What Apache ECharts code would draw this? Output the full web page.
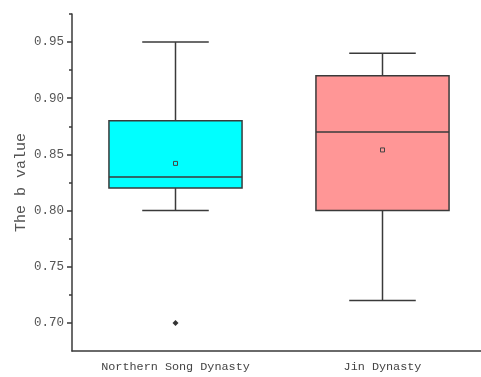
<!DOCTYPE html>
<html>
<head>
<meta charset="utf-8">
<script src="https://cdn.jsdelivr.net/npm/echarts@6/dist/echarts.min.js"></script>
<style>html,body{margin:0;padding:0;background:#fff}#c{width:481px;height:377px}</style>
</head>
<body>
<div id="c"></div>
<script>
const categories = ['Northern Song Dynasty', 'Jin Dynasty'];
const whiskerLow = [0.80, 0.72];
const q1 = [0.82, 0.80];
const median = [0.83, 0.87];
const q3 = [0.88, 0.92];
const whiskerHigh = [0.95, 0.94];
const means = [0.842, 0.854];
const outlierCategory = [0];
const outlierValue = [0.70];
const majorTicks = [0.70, 0.75, 0.80, 0.85, 0.90, 0.95];
const minorTicks = [0.725, 0.775, 0.825, 0.875, 0.925, 0.975];

const boxColors = ['#00FFFF', '#FF9696'];
const lineColor = '#3a3a3a';
const font = 'Liberation Mono';

const boxData = categories.map((c, i) => [i, whiskerLow[i], q1[i], median[i], q3[i], whiskerHigh[i], means[i]]);
const outlierData = outlierCategory.map((c, i) => [c, outlierValue[i]]);

function renderBox(params, api) {
  const idx = api.value(0);
  const band = api.size([1, 0])[0];
  const bw = band * 0.643;
  const cw = bw / 2;
  const pLow = api.coord([idx, api.value(1)]);
  const pQ1 = api.coord([idx, api.value(2)]);
  const pMed = api.coord([idx, api.value(3)]);
  const pQ3 = api.coord([idx, api.value(4)]);
  const pHigh = api.coord([idx, api.value(5)]);
  const pMean = api.coord([idx, api.value(6)]);
  const x = pQ1[0];
  const ls = { stroke: lineColor, lineWidth: 1.5 };
  return {
    type: 'group',
    children: [
      { type: 'line', shape: { x1: x, y1: pQ3[1], x2: x, y2: pHigh[1] }, style: ls },
      { type: 'line', shape: { x1: x, y1: pQ1[1], x2: x, y2: pLow[1] }, style: ls },
      { type: 'line', shape: { x1: x - cw / 2, y1: pHigh[1], x2: x + cw / 2, y2: pHigh[1] }, style: ls },
      { type: 'line', shape: { x1: x - cw / 2, y1: pLow[1], x2: x + cw / 2, y2: pLow[1] }, style: ls },
      { type: 'rect', shape: { x: x - bw / 2, y: pQ3[1], width: bw, height: pQ1[1] - pQ3[1] },
        style: { fill: boxColors[params.dataIndex], stroke: lineColor, lineWidth: 1.5 } },
      { type: 'line', shape: { x1: x - bw / 2, y1: pMed[1], x2: x + bw / 2, y2: pMed[1] }, style: ls },
      { type: 'rect', shape: { x: x - 2, y: pMean[1] - 2, width: 4, height: 4 },
        style: { fill: 'none', stroke: '#444', lineWidth: 1 } }
    ]
  };
}

const chart = echarts.init(document.getElementById('c'), null, { renderer: 'canvas' });
chart.setOption({
  animation: false,
  backgroundColor: '#fff',
  grid: { left: 72, top: 14, width: 414, bottom: 26, containLabel: false, outerBoundsMode: 'none' },
  xAxis: {
    type: 'category',
    data: categories,
    boundaryGap: true,
    axisLine: { lineStyle: { color: lineColor, width: 1.5 } },
    axisTick: { alignWithLabel: true, length: 4, lineStyle: { color: lineColor, width: 1.5 } },
    axisLabel: { color: '#444', fontFamily: font, fontSize: 11.8, margin: 10 },
    splitLine: { show: false }
  },
  yAxis: [
    {
      type: 'value',
      min: 0.675,
      max: 0.975,
      name: 'The b value',
      nameLocation: 'middle',
      nameGap: 43,
      nameMoveOverlap: false,
      nameTextStyle: { color: '#555', fontFamily: font, fontSize: 15 },
      axisLine: { show: true, lineStyle: { color: lineColor, width: 1.5 } },
      axisTick: { show: true, length: 5, customValues: majorTicks, lineStyle: { color: lineColor, width: 1.5 } },
      axisLabel: { customValues: majorTicks, color: '#555', fontFamily: font, fontSize: 12.5, margin: 8,
        formatter: v => v.toFixed(2) },
      splitLine: { show: false }
    },
    {
      type: 'value',
      position: 'left',
      min: 0.675,
      max: 0.975,
      axisLine: { show: false },
      axisTick: { show: true, length: 3, customValues: minorTicks, lineStyle: { color: lineColor, width: 1.5 } },
      axisLabel: { show: false },
      splitLine: { show: false }
    }
  ],
  series: [
    {
      type: 'custom',
      renderItem: renderBox,
      encode: { x: 0, y: [1, 2, 3, 4, 5, 6] },
      data: boxData,
      z: 2
    },
    {
      type: 'scatter',
      data: outlierData,
      symbol: 'diamond',
      symbolSize: 6,
      itemStyle: { color: '#000' },
      z: 3
    }
  ]
});
</script>
</body>
</html>
